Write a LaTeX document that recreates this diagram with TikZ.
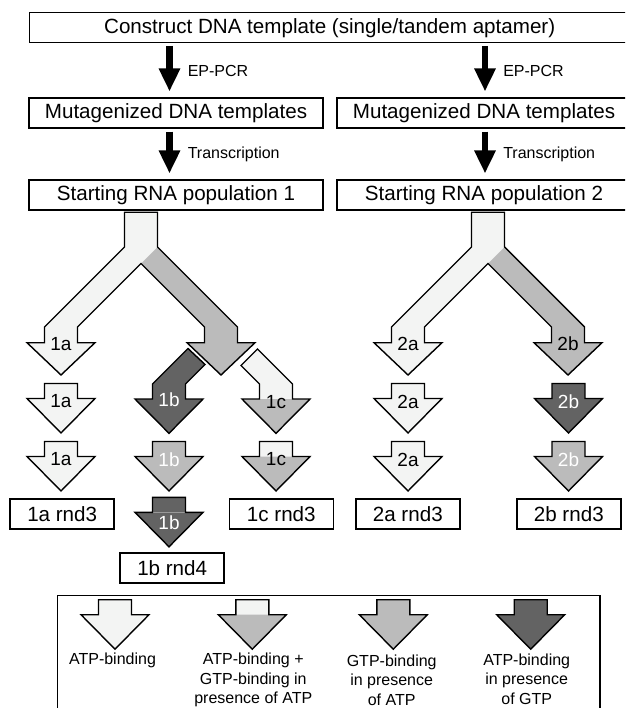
\documentclass[tikz,border=0pt]{standalone}
\usepackage{fontspec}
\setmainfont{Liberation Sans}
\usepackage{xcolor}
\usepackage{tikz}
\usetikzlibrary{arrows.meta}

\definecolor{atpfill}{HTML}{F3F4F3}
\definecolor{gtpfill}{HTML}{BBBBBB}
\definecolor{darkfill}{HTML}{636363}

\begin{document}
\begin{tikzpicture}[
    x=1pt, y=-1pt,
    box/.style={draw, line width=1.6pt, minimum height=30pt, inner sep=0pt, font=\fontsize{20.6}{24}\selectfont},
    wide/.style={box, minimum width=294pt},
    rnd/.style={box, minimum width=104pt},
    flow/.style={line width=6.5pt, -{Triangle[width=20pt, length=23pt]}, shorten <=2.5pt, shorten >=6pt},
    steplbl/.style={anchor=west, xshift=15pt, inner sep=0pt, font=\fontsize{16}{19}\selectfont},
    arrlbl/.style={inner sep=0pt, font=\fontsize{19}{22}\selectfont},
    outl/.style={line width=1.4pt},
    leglbl/.style={anchor=north, align=center, inner sep=0pt, font=\fontsize{16}{19.5}\selectfont},
]
\useasboundingbox (0,0) rectangle (625,708);
\clip (0,0) rectangle (625,708);

% ---- Template and populations ----
\node[box, minimum width=600.7pt] (top) at (329.7,27.7) {Construct DNA template (single/tandem aptamer)};
\node[wide] (mutL) at (176,113.3) {Mutagenized DNA templates};
\node[wide] (mutR) at (484,113.3) {Mutagenized DNA templates};
\node[wide] (popL) at (176,195.3) {Starting RNA population 1};
\node[wide] (popR) at (484,195.3) {Starting RNA population 2};

\coordinate (colL) at (169.5,0);
\coordinate (colR) at (485,0);
\foreach \c in {L,R} {
    \draw[flow] (top.south -| col\c) -- (mut\c.north -| col\c) node[midway, steplbl] (ep\c) {EP-PCR};
    \draw[flow] (mut\c.south -| col\c) -- (pop\c.north -| col\c) node[midway, steplbl] (tr\c) {Transcription};
}

% ---- Forks (left arm ATP, right arm GTP) ----
\foreach \cx in {141, 488} {
    \fill[atpfill] (\cx-16.5,212.3) -- (\cx-16.5,247) -- (\cx-96.5,327) -- (\cx-96.5,342.7) -- (\cx-114,342.7)
        -- (\cx-80,375) -- (\cx-46,342.7) -- (\cx-63.5,342.7) -- (\cx-63.5,327) -- (\cx,263.5)
        -- (\cx+16.5,247) -- (\cx+16.5,212.3) -- cycle;
    \fill[gtpfill] (\cx+16.5,247) -- (\cx,263.5) -- (\cx+63.5,327) -- (\cx+63.5,342.7) -- (\cx+46,342.7)
        -- (\cx+80,375) -- (\cx+114,342.7) -- (\cx+96.5,342.7) -- (\cx+96.5,327) -- cycle;
    \draw[outl] (\cx-16.5,212.3) -- (\cx-16.5,247) -- (\cx-96.5,327) -- (\cx-96.5,342.7) -- (\cx-114,342.7)
        -- (\cx-80,375) -- (\cx-46,342.7) -- (\cx-63.5,342.7) -- (\cx-63.5,327) -- (\cx,263.5)
        -- (\cx+63.5,327) -- (\cx+63.5,342.7) -- (\cx+46,342.7) -- (\cx+80,375) -- (\cx+114,342.7)
        -- (\cx+96.5,342.7) -- (\cx+96.5,327) -- (\cx+16.5,247) -- (\cx+16.5,212.3) -- cycle;
}
\node[arrlbl] (fork1a) at (61,344) {1a};
\node[arrlbl] (fork2a) at (408,344) {2a};
\node[arrlbl] (fork2b) at (568,344) {2b};

% ---- Bent arrows 1b and 1c ----
\draw[outl, fill=darkfill] (188,348.5) -- (152.5,384) -- (152.5,399) -- (135,399) -- (169,433.3)
    -- (203,399) -- (185.5,399) -- (185.5,384) -- (205,364.5) -- cycle;
\node[arrlbl, text=white] (bent1b) at (169,400) {1b};
\fill[atpfill] (241,365.5) -- (259.5,384) -- (259.5,399) -- (292.5,399) -- (292.5,384) -- (257.5,349) -- cycle;
\fill[gtpfill] (242,399) -- (276,433.3) -- (310,399) -- cycle;
\draw[outl] (241,365.5) -- (259.5,384) -- (259.5,399) -- (242,399) -- (276,433.3) -- (310,399)
    -- (292.5,399) -- (292.5,384) -- (257.5,349) -- cycle;
\node[arrlbl] (bent1c) at (276,402) {1c};

% ---- Selection rounds ----
\foreach \cx/\ty/\cs/\ch/\lab/\tc/\dy/\r in {
    61/383.5/atpfill/atpfill/1a/black/18/2,
    408/383.5/atpfill/atpfill/2a/black/18/2,
    568.5/383.5/darkfill/darkfill/2b/white/18/2,
    61/441.5/atpfill/atpfill/1a/black/18/3,
    169/441.5/gtpfill/gtpfill/1b/white/18/3,
    276/441.5/atpfill/gtpfill/1c/black/18/3,
    408/441.5/atpfill/atpfill/2a/black/18/3,
    568.5/441.5/gtpfill/gtpfill/2b/white/18/3,
    169/497.3/darkfill/darkfill/1b/white/25/4} {
    \fill[\cs] (\cx-16.5,\ty) rectangle (\cx+16.5,\ty+15);
    \fill[\ch] (\cx-34,\ty+15) -- (\cx,\ty+49.5) -- (\cx+34,\ty+15) -- cycle;
    \draw[outl] (\cx-16.5,\ty) -- (\cx-16.5,\ty+15) -- (\cx-34,\ty+15) -- (\cx,\ty+49.5)
        -- (\cx+34,\ty+15) -- (\cx+16.5,\ty+15) -- (\cx+16.5,\ty) -- cycle;
    \node[arrlbl, text=\tc] (arr\lab-\r) at (\cx,\ty+\dy) {\lab};
}

\node[rnd] (rnd1a) at (62.2,513.7) {1a rnd3};
\node[rnd] (rnd1c) at (281.3,513.7) {1c rnd3};
\node[rnd] (rnd2a) at (407.8,513.7) {2a rnd3};
\node[rnd] (rnd2b) at (568.8,513.7) {2b rnd3};
\node[rnd] (rnd1b) at (172.2,568) {1b rnd4};

% ---- Legend ----
\draw[line width=1.6pt] (57.3,595.3) rectangle (600,720);
\foreach \cx/\cs/\ch in {115/atpfill/atpfill, 252.3/atpfill/gtpfill, 393.3/gtpfill/gtpfill, 530.7/darkfill/darkfill} {
    \fill[\cs] (\cx-16.5,599.7) rectangle (\cx+16.5,614.7);
    \fill[\ch] (\cx-34,614.7) -- (\cx,649.2) -- (\cx+34,614.7) -- cycle;
    \draw[outl] (\cx-16.5,599.7) -- (\cx-16.5,614.7) -- (\cx-34,614.7) -- (\cx,649.2)
        -- (\cx+34,614.7) -- (\cx+16.5,614.7) -- (\cx+16.5,599.7) -- cycle;
}
\node[leglbl] (legA) at (112.5,653) {ATP-binding};
\node[leglbl] (legB) at (253.3,653) {ATP-binding +\\GTP-binding in\\presence of ATP};
\node[leglbl] (legC) at (391.7,654.5) {GTP-binding\\in presence\\of ATP};
\node[leglbl] (legD) at (526.7,653.5) {ATP-binding\\in presence\\of GTP};

\end{tikzpicture}
\end{document}
